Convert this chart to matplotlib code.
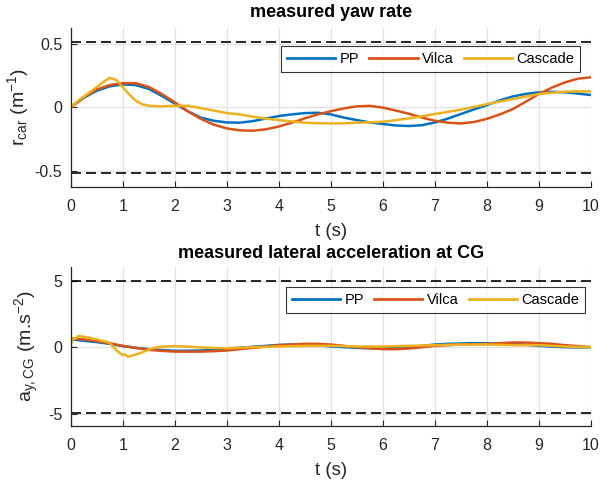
import matplotlib
matplotlib.use("Agg")
import matplotlib.pyplot as plt
import numpy as np

plt.rcParams['font.family'] = ['Liberation Sans', 'DejaVu Sans']
plt.rcParams['axes.unicode_minus'] = False
plt.rcParams['mathtext.fontset'] = 'custom'
plt.rcParams['mathtext.rm'] = 'Liberation Sans'
plt.rcParams['mathtext.it'] = 'Liberation Sans'

# ---------------- data ----------------
t = [0, 0.25, 0.5, 0.75, 1.0, 1.25, 1.5, 1.75, 2.0, 2.25, 2.5, 2.75, 3.0, 3.25,
     3.5, 3.75, 4.0, 4.25, 4.5, 4.75, 5.0, 5.25, 5.5, 5.75, 6.0, 6.25, 6.5, 6.75,
     7.0, 7.25, 7.5, 7.75, 8.0, 8.25, 8.5, 8.75, 9.0, 9.25, 9.5, 9.75, 10.0]

yaw_pp = [0, 0.075, 0.13, 0.165, 0.18, 0.175, 0.145, 0.09, 0.03, -0.03,
          -0.08, -0.105, -0.118, -0.12, -0.108, -0.088, -0.068, -0.055, -0.045, -0.042,
          -0.055, -0.08, -0.1, -0.118, -0.13, -0.142, -0.146, -0.14, -0.118, -0.088,
          -0.052, -0.016, 0.018, 0.055, 0.086, 0.106, 0.118, 0.122, 0.118, 0.108, 0.097]
yaw_vilca = [0, 0.08, 0.14, 0.175, 0.19, 0.19, 0.16, 0.105, 0.04, -0.03,
             -0.09, -0.135, -0.165, -0.18, -0.183, -0.172, -0.15, -0.12, -0.086, -0.055,
             -0.03, -0.008, 0.008, 0.012, -0.002, -0.025, -0.05, -0.08, -0.105, -0.12,
             -0.126, -0.115, -0.09, -0.055, -0.013, 0.045, 0.105, 0.155, 0.196, 0.225, 0.236]
t_yaw_cascade = [0, 0.125, 0.25, 0.375, 0.5, 0.625, 0.75, 0.875, 1.0, 1.125, 1.25,
                 1.375, 1.5, 1.75, 2.0, 2.25, 2.5, 2.75, 3.0, 3.25, 3.5, 3.75, 4.0,
                 4.25, 4.5, 4.75, 5.0, 5.25, 5.5, 5.75, 6.0, 6.25, 6.5, 6.75, 7.0,
                 7.25, 7.5, 7.75, 8.0, 8.25, 8.5, 8.75, 9.0, 9.25, 9.5, 9.75, 10.0]
yaw_cascade = [0, 0.045, 0.085, 0.122, 0.158, 0.198, 0.232, 0.215, 0.158, 0.102, 0.052,
               0.024, 0.013, 0.008, 0.013, 0.012, -0.005, -0.025, -0.045, -0.055, -0.073,
               -0.088, -0.1, -0.11, -0.12, -0.124, -0.126, -0.125, -0.12, -0.117, -0.113,
               -0.1, -0.086, -0.07, -0.052, -0.035, -0.018, 0.004, 0.026, 0.046, 0.065,
               0.085, 0.105, 0.115, 0.123, 0.125, 0.126]

acc_pp = [0.6, 0.48, 0.38, 0.25, 0.08, -0.05, -0.15, -0.22, -0.27, -0.27,
          -0.25, -0.2, -0.12, -0.04, 0.03, 0.1, 0.17, 0.2, 0.2, 0.15,
          0.05, 0.0, -0.05, -0.08, -0.1, -0.07, 0.0, 0.1, 0.2, 0.25,
          0.28, 0.3, 0.3, 0.28, 0.25, 0.18, 0.1, 0.04, 0.0, -0.02, 0.0]
acc_vilca = [0.68, 0.58, 0.45, 0.3, 0.1, -0.05, -0.2, -0.28, -0.33, -0.34,
             -0.33, -0.3, -0.25, -0.15, -0.05, 0.05, 0.15, 0.2, 0.25, 0.25,
             0.2, 0.1, 0.0, -0.08, -0.15, -0.15, -0.1, 0.0, 0.1, 0.15,
             0.2, 0.22, 0.25, 0.3, 0.35, 0.35, 0.3, 0.25, 0.15, 0.08, 0.0]
t_acc_cascade = [0, 0.03, 0.08, 0.15, 0.25, 0.35, 0.5, 0.6, 0.7, 0.75,
                 0.8, 0.85, 0.9, 0.95, 1.0, 1.05, 1.1, 1.2, 1.3, 1.4,
                 1.5, 1.6, 1.75, 2.0, 2.25, 2.5, 2.75, 3.0, 3.5, 4.0,
                 4.5, 5.0, 5.5, 6.0, 6.5, 7.0, 7.5, 8.0, 8.5, 9.0, 9.5, 10.0]
acc_cascade = [0.0, 0.7, 0.6, 0.85, 0.78, 0.72, 0.58, 0.48, 0.4, 0.3,
               0.1, -0.1, -0.3, -0.45, -0.6, -0.55, -0.72, -0.6, -0.5, -0.35,
               -0.18, -0.05, 0.03, 0.08, 0.05, -0.02, -0.06, -0.08, 0.0, 0.05,
               0.1, 0.1, 0.05, 0.05, 0.1, 0.15, 0.2, 0.2, 0.15, 0.15, 0.05, 0.0]

yaw_limit = 0.515
acc_limit = 4.95
labels = ['PP', 'Vilca', 'Cascade']
colors = ['#0072BD', '#D95319', '#EDB120']

# ---------------- figure ----------------
fig = plt.figure(figsize=(6.02, 4.8), dpi=100)
ax1 = fig.add_axes([0.1174, 0.611, 0.8643, 0.3306])
ax2 = fig.add_axes([0.1174, 0.1131, 0.8643, 0.330])

AX_COL = '#262626'


def style(ax, ylim, yticks, yticklabels):
    ax.set_xlim(0, 10)
    ax.set_ylim(*ylim)
    ax.set_xticks(range(0, 11))
    ax.set_yticks(yticks)
    ax.set_yticklabels(yticklabels)
    ax.grid(True, color='#e0e0e0', linewidth=0.9)
    ax.set_axisbelow(True)
    for s in ['top', 'right']:
        ax.spines[s].set_visible(False)
    for s in ['left', 'bottom']:
        ax.spines[s].set_color(AX_COL)
        ax.spines[s].set_linewidth(0.9)
    ax.tick_params(direction='in', length=4, width=0.8, colors=AX_COL,
                   labelsize=11.5)
    ax.tick_params(axis='x', pad=9)
    ax.tick_params(axis='y', pad=6)
    ax.set_xlabel('t (s)', fontsize=13.5, color=AX_COL, labelpad=6)


lw = 1.8
ax1.plot(t, yaw_pp, color=colors[0], lw=lw, label=labels[0])
ax1.plot(t, yaw_vilca, color=colors[1], lw=lw, label=labels[1])
ax1.plot(t_yaw_cascade, yaw_cascade, color=colors[2], lw=lw, label=labels[2])
ax1.axhline(yaw_limit, color='black', lw=1.2, ls=(0, (6, 3)))
ax1.axhline(-yaw_limit, color='black', lw=1.2, ls=(0, (6, 3)))
style(ax1, (-0.622, 0.622), [-0.5, 0, 0.5], ['-0.5', '0', '0.5'])
ax1.set_ylabel(r'r$_{\mathregular{car}}$ (m$^{\mathregular{-1}}$)', fontsize=14,
               color=AX_COL, labelpad=3)
ax1.set_title('measured yaw rate', fontsize=13, fontweight='bold', pad=8)

ax2.plot(t, acc_pp, color=colors[0], lw=lw, label=labels[0])
ax2.plot(t, acc_vilca, color=colors[1], lw=lw, label=labels[1])
ax2.plot(t_acc_cascade, acc_cascade, color=colors[2], lw=lw, label=labels[2])
ax2.axhline(acc_limit, color='black', lw=1.2, ls=(0, (6, 3)))
ax2.axhline(-acc_limit, color='black', lw=1.2, ls=(0, (6, 3)))
style(ax2, (-5.9, 6.0), [-5, 0, 5], ['-5', '0', '5'])
ax2.set_ylabel(r'a$_{\mathregular{y,CG}}$ (m.s$^{\mathregular{-2}}$)', fontsize=14,
               color=AX_COL, labelpad=5)
ax2.set_title('measured lateral acceleration at CG', fontsize=13,
              fontweight='bold', pad=7)

for ax, anchor in [(ax1, (0.979, 0.887)), (ax2, (0.988, 0.874))]:
    leg = ax.legend(loc='upper right', bbox_to_anchor=anchor, ncol=3,
                    fontsize=10.5, frameon=True, fancybox=False,
                    handlelength=3.3, handletextpad=0.3, columnspacing=0.7,
                    borderpad=0.4, borderaxespad=0)
    leg.get_frame().set_edgecolor('black')
    leg.get_frame().set_linewidth(0.8)
    for line in leg.get_lines():
        line.set_linewidth(2.0)

fig.savefig('out.png', dpi=100)
